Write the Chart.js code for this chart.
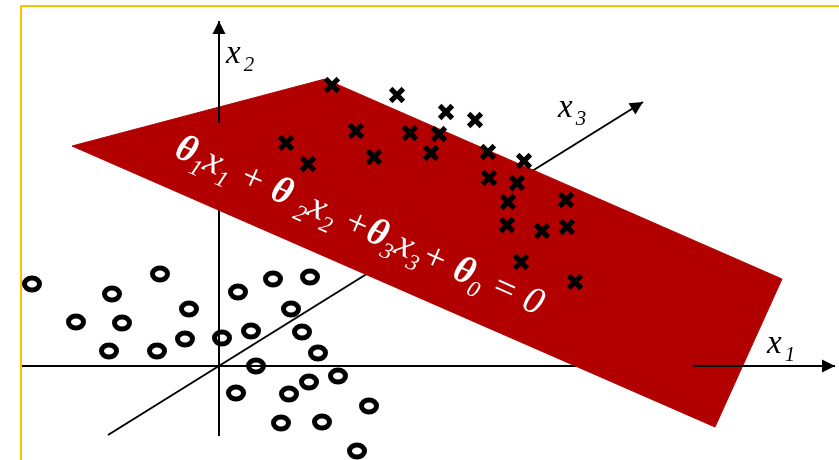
<!DOCTYPE html>
<html>
<head>
<meta charset="utf-8">
<script src="https://cdn.jsdelivr.net/npm/chart.js@4.4.0/dist/chart.umd.min.js"></script>
<style>
  html, body { margin: 0; padding: 0; background: #fff; }
  #wrap { width: 839px; height: 460px; }
</style>
</head>
<body>
<div id="wrap"><canvas id="plane-chart" width="839" height="460"></canvas></div>
<script>
// positive samples (crosses), projected coordinates
const crossX = [11.3, 17.8, 6.7, 8.9, 13.7, 15.5, 19.1, 22.0, 21.2, 22.7, 25.6,
  26.9, 30.5, 27.0, 29.8, 28.9, 34.7, 28.8, 32.3, 34.8, 30.2, 35.6];
const crossY = [28.1, 27.1, 22.3, 20.2, 23.5, 20.9, 23.3, 23.2, 21.3, 25.4, 24.6,
  21.4, 20.5, 18.8, 18.3, 16.4, 16.6, 14.1, 13.5, 13.9, 10.4, 8.4];

// negative samples (circles)
const circleX = [-18.7, -5.9, -10.7, -14.3, -9.7, -3.0, 1.9, 5.4, 9.1, 7.2, -11.0, -6.2, -3.4,
  0.3, 3.2, 8.3, 9.9, 3.7, 11.9, 9.0, 1.7, 7.0, 15.0, 6.2, 10.3, 13.8];
const circleY = [8.2, 9.2, 7.2, 4.4, 4.3, 5.7, 7.4, 8.7, 8.9, 5.7, 1.5, 1.5, 2.7,
  2.8, 3.5, 3.4, 1.3, 0.0, -1.0, -1.6, -2.7, -2.8, -4.0, -5.7, -5.6, -8.5];

// corners of the separating plane
const planeX = [-14.7, 10.6, 56.3, 49.6];
const planeY = [22.0, 28.7, 8.7, -6.1];

// axes: x1 and x2 both pass behind the plane, with a front part drawn over it
const x1BackX = [-19.7, 61.6];
const x1FrontX = [47.4, 61.6];
const x2BackY = [-7.0, 24.3];
const x2FrontY = [24.3, 34.5];
const x3X = [-11.1, 42.4];
const x3Y = [-6.9, 26.4];

// axis label anchors
const axisLabels = [
  { x: 0.7, y: 30.3, sub: '2' },
  { x: 33.9, y: 24.9, sub: '3' },
  { x: 54.8, y: 1.3, sub: '1' }
];

// equation written along the plane: [text, isSubscript, isTheta]
const eqStart = { x: -4.6, y: 21.0 };
const eqParts = [
  ['θ', 0, 1], ['1', 1, 0], ['x', 0, 0], ['1', 1, 0], [' + ', 0, 0], ['θ', 0, 1], [' ', 0, 0],
  ['2', 1, 0], ['x', 0, 0], ['2', 1, 0], [' +', 0, 0], ['θ', 0, 1], ['3', 1, 0], ['x', 0, 0],
  ['3', 1, 0], ['+ ', 0, 0], ['θ', 0, 1], ['0', 1, 0], [' = 0', 0, 0]
];

const toPoints = (xs, ys) => xs.map((x, i) => ({ x: x, y: ys[i] }));

// ring marker used for the circles
function makeRing() {
  const c = document.createElement('canvas');
  c.width = 24;
  c.height = 20;
  const g = c.getContext('2d');
  g.strokeStyle = '#000';
  g.lineWidth = 5;
  g.beginPath();
  g.ellipse(12, 10, 7.5, 6, 0, 0, Math.PI * 2);
  g.stroke();
  return c;
}

function lineSet(points, order, arrow) {
  return {
    data: points,
    showLine: true,
    borderColor: '#000',
    borderWidth: 2,
    pointRadius: 0,
    fill: false,
    order: order,
    arrowHead: arrow
  };
}

// yellow frame on top and left
const framePlugin = {
  id: 'frame',
  beforeDatasetsDraw(chart) {
    const ctx = chart.ctx;
    ctx.save();
    ctx.strokeStyle = '#ffc000';
    ctx.lineWidth = 2;
    ctx.beginPath();
    ctx.moveTo(21, 460);
    ctx.lineTo(21, 6);
    ctx.lineTo(839, 6);
    ctx.stroke();
    ctx.restore();
  }
};

// arrow heads, axis names and the equation
const textPlugin = {
  id: 'annot',
  afterDatasetsDraw(chart) {
    const ctx = chart.ctx;
    const sx = chart.scales.x, sy = chart.scales.y;
    ctx.save();

    chart.data.datasets.forEach((ds, i) => {
      if (!ds.arrowHead) return;
      const pts = chart.getDatasetMeta(i).data;
      const a = pts[pts.length - 2], b = pts[pts.length - 1];
      const ang = Math.atan2(b.y - a.y, b.x - a.x);
      ctx.save();
      ctx.translate(b.x, b.y);
      ctx.rotate(ang);
      ctx.fillStyle = '#000';
      ctx.beginPath();
      ctx.moveTo(0, 0);
      ctx.lineTo(-13, -6.5);
      ctx.lineTo(-13, 6.5);
      ctx.closePath();
      ctx.fill();
      ctx.restore();
    });

    ctx.fillStyle = '#000';
    ctx.textBaseline = 'alphabetic';
    axisLabels.forEach((l) => {
      const px = sx.getPixelForValue(l.x), py = sy.getPixelForValue(l.y);
      ctx.font = 'italic 33px "Liberation Serif"';
      ctx.fillText('x', px, py);
      const w = ctx.measureText('x').width;
      ctx.font = 'italic 21px "Liberation Serif"';
      ctx.fillText(l.sub, px + w + 3, py + 8);
    });

    // equation rotated to follow the lower edge of the plane
    const p0x = sx.getPixelForValue(planeX[0]), p0y = sy.getPixelForValue(planeY[0]);
    const p3x = sx.getPixelForValue(planeX[3]), p3y = sy.getPixelForValue(planeY[3]);
    const ang = Math.atan2(p3y - p0y, p3x - p0x);
    ctx.translate(sx.getPixelForValue(eqStart.x), sy.getPixelForValue(eqStart.y));
    ctx.rotate(ang);
    ctx.fillStyle = '#fff';
    let cx = 0;
    eqParts.forEach(([txt, sub, theta]) => {
      if (sub) ctx.font = 'italic 23px "Liberation Serif"';
      else if (theta) ctx.font = 'bold italic 38px "Liberation Serif"';
      else ctx.font = 'italic 38px "Liberation Serif"';
      ctx.fillText(txt, cx, sub ? 9 : 0);
      cx += ctx.measureText(txt).width;
    });
    ctx.restore();
  }
};

const ring = makeRing();

new Chart(document.getElementById('plane-chart'), {
  type: 'scatter',
  data: {
    datasets: [
      {
        data: toPoints(crossX, crossY),
        pointStyle: 'crossRot',
        pointRadius: 9,
        pointBorderWidth: 5,
        borderColor: '#000',
        order: 0
      },
      lineSet(toPoints(x1FrontX, [0, 0]), 1, true),
      lineSet(toPoints([0, 0], x2FrontY), 1, true),
      {
        data: toPoints(planeX.concat(planeX[0]), planeY.concat(planeY[0])),
        showLine: true,
        fill: 'shape',
        backgroundColor: '#b20000',
        borderColor: '#b20000',
        borderWidth: 1,
        pointRadius: 0,
        order: 2
      },
      lineSet(toPoints(x1BackX, [0, 0]), 3, false),
      lineSet(toPoints([0, 0], x2BackY), 3, false),
      lineSet(toPoints(x3X, x3Y), 3, true),
      {
        data: toPoints(circleX, circleY),
        pointStyle: ring,
        pointRadius: 10,
        order: 4
      }
    ]
  },
  options: {
    responsive: false,
    animation: false,
    events: [],
    layout: { padding: 0, autoPadding: false },
    plugins: { legend: { display: false }, tooltip: { enabled: false } },
    scales: {
      x: { type: 'linear', min: -21.9, max: 62.0, display: false },
      y: { type: 'linear', min: -9.4, max: 36.6, display: false }
    }
  },
  plugins: [framePlugin, textPlugin]
});
</script>
</body>
</html>
